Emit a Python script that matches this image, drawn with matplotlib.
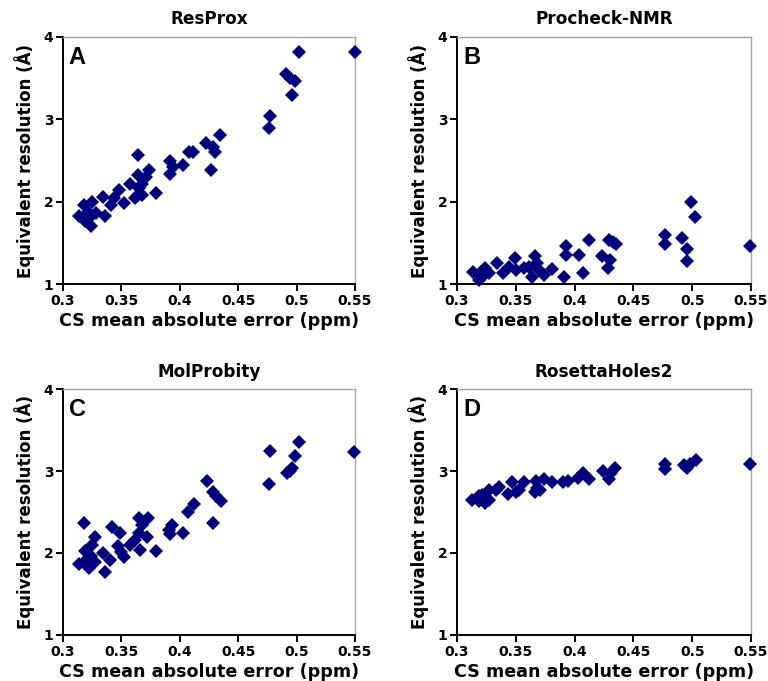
import matplotlib
matplotlib.use("Agg")
import matplotlib.pyplot as plt

titles = ["ResProx", "Procheck-NMR", "MolProbity", "RosettaHoles2"]
letters = ["A", "B", "C", "D"]
x_ticks = [0.3, 0.35, 0.4, 0.45, 0.5, 0.55]
x_tick_labels = ["0.3", "0.35", "0.4", "0.45", "0.5", "0.55"]
y_ticks = [1, 2, 3, 4]

xA = [0.550, 0.502, 0.491, 0.494, 0.499, 0.496, 0.477, 0.476, 0.4346, 0.4226, 0.428, 0.430,
      0.427, 0.411, 0.408, 0.403, 0.392, 0.394, 0.392, 0.364, 0.374, 0.371, 0.364, 0.368,
      0.365, 0.364, 0.368, 0.362, 0.380, 0.357, 0.348, 0.344, 0.352, 0.334, 0.341, 0.336,
      0.325, 0.318, 0.314, 0.321, 0.322, 0.324, 0.328, 0.319]
yA = [3.82, 3.82, 3.55, 3.50, 3.46, 3.29, 3.04, 2.89, 2.81, 2.71, 2.67, 2.60,
      2.38, 2.60, 2.60, 2.45, 2.49, 2.42, 2.34, 2.57, 2.38, 2.30, 2.32, 2.22,
      2.16, 2.08, 2.08, 2.04, 2.10, 2.22, 2.14, 2.04, 1.98, 2.06, 1.96, 1.82,
      2.00, 1.96, 1.82, 1.88, 1.80, 1.70, 1.86, 1.76]

xB = [0.549, 0.499, 0.502, 0.477, 0.477, 0.491, 0.496, 0.496, 0.412, 0.429, 0.433, 0.435,
      0.423, 0.430, 0.428, 0.404, 0.407, 0.393, 0.393, 0.391, 0.381, 0.374, 0.366, 0.368,
      0.369, 0.364, 0.361, 0.357, 0.349, 0.350, 0.344, 0.339, 0.334, 0.327, 0.324, 0.320,
      0.314, 0.319, 0.321]
yB = [1.46, 2.00, 1.81, 1.60, 1.48, 1.56, 1.43, 1.28, 1.53, 1.54, 1.51, 1.48,
      1.34, 1.29, 1.20, 1.35, 1.13, 1.46, 1.35, 1.09, 1.18, 1.11, 1.34, 1.25,
      1.18, 1.09, 1.21, 1.19, 1.31, 1.17, 1.21, 1.13, 1.26, 1.13, 1.19, 1.15,
      1.14, 1.05, 1.09]

xC = [0.549, 0.502, 0.499, 0.477, 0.476, 0.496, 0.494, 0.492, 0.423, 0.428, 0.431, 0.435,
      0.428, 0.412, 0.407, 0.403, 0.393, 0.391, 0.392, 0.373, 0.365, 0.368, 0.365, 0.372,
      0.362, 0.366, 0.380, 0.357, 0.342, 0.349, 0.347, 0.352, 0.350, 0.340, 0.334, 0.336,
      0.318, 0.327, 0.325, 0.319, 0.324, 0.314, 0.318, 0.322, 0.327]
yC = [3.23, 3.35, 3.18, 3.25, 2.84, 3.04, 3.00, 2.98, 2.88, 2.75, 2.69, 2.63,
      2.36, 2.60, 2.50, 2.24, 2.34, 2.28, 2.23, 2.43, 2.43, 2.34, 2.24, 2.20,
      2.16, 2.04, 2.02, 2.10, 2.32, 2.24, 2.09, 1.95, 2.01, 1.92, 2.00, 1.77,
      2.36, 2.20, 2.10, 2.02, 1.96, 1.86, 1.89, 1.82, 1.89]

xD = [0.549, 0.477, 0.477, 0.503, 0.498, 0.493, 0.496, 0.434, 0.431, 0.424, 0.429, 0.407,
      0.412, 0.403, 0.394, 0.390, 0.381, 0.374, 0.367, 0.368, 0.366, 0.371, 0.357, 0.353,
      0.347, 0.350, 0.343, 0.336, 0.333, 0.327, 0.324, 0.327, 0.321, 0.317, 0.313, 0.319,
      0.324, 0.319]
yD = [3.08, 3.08, 3.03, 3.14, 3.08, 3.07, 3.04, 3.04, 2.98, 3.00, 2.90, 2.97,
      2.90, 2.91, 2.88, 2.86, 2.86, 2.90, 2.88, 2.79, 2.74, 2.77, 2.86, 2.77,
      2.86, 2.74, 2.72, 2.81, 2.77, 2.77, 2.70, 2.65, 2.71, 2.67, 2.65, 2.63,
      2.61, 2.70]

xs = [xA, xB, xC, xD]
ys = [yA, yB, yC, yD]

W, H = 768, 681
fig = plt.figure(figsize=(W / 100, H / 100), dpi=100)

# axes boxes in pixels: (left, top, right, bottom)
boxes = [(63, 37, 355, 284), (457, 37, 751, 284),
         (63, 389, 355, 635), (457, 389, 751, 635)]

marker_color = "#00007f"
for i in range(4):
    l, t, r, b = boxes[i]
    ax = fig.add_axes([l / W, 1 - b / H, (r - l) / W, (b - t) / H])
    ax.plot(xs[i], ys[i], linestyle="none", marker="D", ms=7.4,
            color=marker_color, markeredgewidth=0, clip_on=False, zorder=3)
    ax.set_xlim(0.3, 0.55)
    ax.set_ylim(1, 4)
    ax.set_xticks(x_ticks)
    ax.set_xticklabels(x_tick_labels)
    ax.set_yticks(y_ticks)
    for s in ("top", "right"):
        ax.spines[s].set_color("#a8a8a8")
        ax.spines[s].set_linewidth(1.0)
    for s in ("left", "bottom"):
        ax.spines[s].set_color("black")
        ax.spines[s].set_linewidth(1.4)
    ax.tick_params(direction="out", length=5, width=1.4, labelsize=10, pad=2)
    for lab in ax.get_xticklabels() + ax.get_yticklabels():
        lab.set_fontweight("bold")
    ax.set_title(titles[i], fontsize=12.2, fontweight="bold", pad=9)
    ax.set_xlabel("CS mean absolute error (ppm)", fontsize=12.6, fontweight="bold", labelpad=3)
    ax.set_ylabel("Equivalent resolution (Å)", fontsize=12, fontweight="bold", labelpad=6)
    ax.text(0.02, 0.965, letters[i], transform=ax.transAxes, ha="left", va="top",
            fontsize=17, fontweight="bold", family="Liberation Sans")

fig.savefig("out.png", dpi=100)
